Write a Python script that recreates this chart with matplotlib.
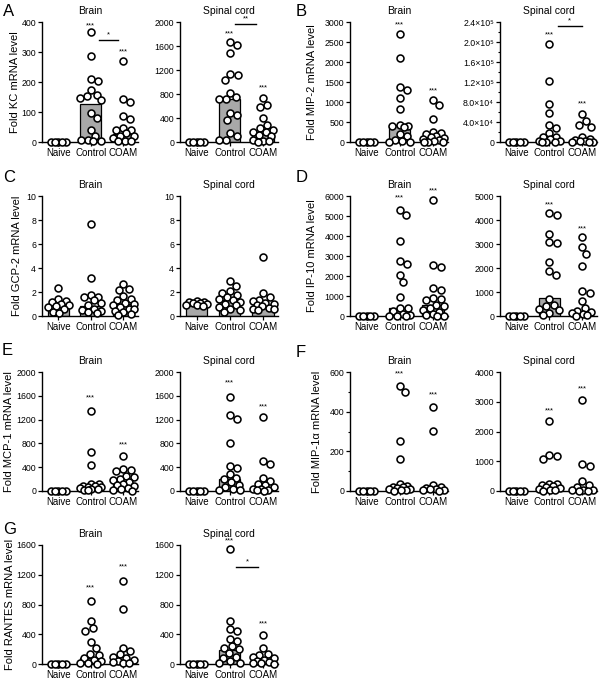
import matplotlib
matplotlib.use('Agg')
import matplotlib.pyplot as plt
import numpy as np

plt.rcParams['font.family'] = ['Liberation Sans', 'DejaVu Sans']

groups = ['Naive', 'Control', 'COAM']

# ---------------- data (fold mRNA levels) ----------------
kc_brain = [[1, 1, 1, 1, 1],
            [368, 288, 210, 204, 174, 157, 152, 146, 140, 96, 80, 40, 19, 8, 6, 5, 4],
            [270, 143, 132, 88, 76, 47, 41, 40, 30, 21, 19, 12, 3, 2, 2]]
kc_brain_bars = [1, 128, 28]
kc_spinal = [[1, 1, 1, 1, 1],
             [1670, 1615, 1480, 1135, 1120, 1035, 825, 750, 715, 715, 480, 455, 360, 150, 95, 40, 35],
             [730, 620, 580, 400, 290, 235, 205, 175, 160, 120, 95, 40, 12, 10, 8]]
kc_spinal_bars = [1, 710, 150]

mip2_brain = [[1, 1, 1, 1, 1],
              [2710, 2090, 1370, 1300, 1110, 830, 420, 410, 400, 380, 200, 150, 60, 20, 10, 5],
              [1060, 930, 580, 260, 230, 210, 150, 130, 110, 80, 40, 20, 10, 5, 5]]
mip2_brain_bars = [1, 430, 150]
mip2_spinal = [[1, 1, 1, 1, 1],
               [197000, 123000, 76000, 59000, 34500, 28000, 18000, 11000, 10000, 6000, 3000, 1500, 800, 400, 200],
               [55500, 42000, 34500, 30500, 9500, 7000, 4000, 2500, 1500, 800, 400, 200]]
mip2_spinal_bars = [1, 8000, 2000]

gcp2_brain = [[2.35, 1.45, 1.25, 1.15, 1.0, 0.9, 0.85, 0.75, 0.55, 0.3, 0.25],
              [7.65, 3.2, 1.75, 1.6, 1.55, 1.3, 1.1, 0.9, 0.6, 0.5, 0.4, 0.3, 0.25],
              [2.7, 2.25, 2.2, 1.65, 1.45, 1.35, 1.1, 1.0, 0.9, 0.75, 0.6, 0.55, 0.45, 0.3, 0.2, 0.1]]
gcp2_brain_bars = [0.95, 0.85, 1.0]
gcp2_spinal = [[1.25, 1.2, 1.15, 1.1, 1.05, 1.0, 0.95, 0.9, 0.85],
               [2.9, 2.5, 2.05, 1.9, 1.75, 1.6, 1.45, 1.3, 1.2, 1.0, 0.9, 0.75, 0.6, 0.5, 0.35],
               [4.9, 1.9, 1.55, 1.35, 1.25, 1.1, 1.0, 0.95, 0.8, 0.7, 0.6, 0.55, 0.5]]
gcp2_spinal_bars = [1.0, 1.35, 0.85]

ip10_brain = [[1, 1, 1, 1, 1],
              [5280, 5070, 3750, 2750, 2580, 2040, 1700, 960, 420, 380, 250, 120, 50, 20, 10, 5],
              [5820, 2530, 2450, 1400, 1320, 900, 860, 790, 560, 480, 380, 300, 200, 100, 50, 20, 10]]
ip10_brain_bars = [1, 420, 560]
ip10_spinal = [[1, 1, 1, 1, 1],
               [4280, 4200, 3420, 3080, 3040, 2230, 1860, 1700, 720, 470, 420, 300, 230, 120, 50],
               [3300, 2870, 2600, 2100, 1050, 960, 630, 330, 220, 160, 120, 80, 40, 20]]
ip10_spinal_bars = [1, 740, 200]

mcp1_brain = [[1, 1, 1, 1, 1],
              [1350, 660, 440, 120, 110, 90, 80, 70, 60, 50, 40, 30, 20, 10],
              [590, 370, 350, 340, 260, 230, 200, 180, 150, 120, 100, 80, 50, 30, 10, 5]]
mcp1_brain_bars = [1, 50, 120]
mcp1_spinal = [[1, 1, 1, 1, 1],
               [1580, 1270, 1210, 810, 420, 390, 290, 220, 200, 150, 100, 60, 40, 20, 10],
               [1240, 500, 460, 220, 170, 120, 100, 60, 40, 30, 20, 10, 5]]
mcp1_spinal_bars = [1, 200, 20]

mip1a_brain = [[1, 1, 1, 1, 1],
               [530, 500, 250, 160, 35, 25, 22, 20, 15, 10, 8, 5, 3, 2],
               [425, 305, 28, 18, 15, 10, 8, 5, 3, 2]]
mip1a_brain_bars = [1, 5, 3]
mip1a_spinal = [[1, 1, 1, 1, 1],
                [2350, 1200, 1180, 1060, 240, 220, 200, 180, 150, 100, 80, 50, 20, 10],
                [3060, 900, 830, 340, 200, 150, 50, 30, 20, 10, 5]]
mip1a_spinal_bars = [1, 100, 30]

rantes_brain = [[1, 1, 1, 1, 1],
                [850, 580, 480, 450, 290, 210, 140, 120, 80, 60, 40, 20, 10, 5],
                [1110, 740, 220, 170, 130, 100, 80, 60, 40, 30, 20, 10]]
rantes_brain_bars = [1, 80, 40]
rantes_spinal = [[1, 1, 1, 1, 1],
                 [1540, 580, 470, 450, 340, 310, 240, 220, 200, 150, 100, 80, 40, 20, 10],
                 [390, 210, 130, 120, 100, 80, 60, 40, 30, 20, 10, 5]]
rantes_spinal_bars = [1, 190, 50]

sup = {4: '\u2074', 5: '\u2075'}
mip2_spinal_ticklabels = ['0', '4.0\u00d710' + sup[4], '8.0\u00d710' + sup[4],
                          '1.2\u00d710' + sup[5], '1.6\u00d710' + sup[5],
                          '2.0\u00d710' + sup[5], '2.4\u00d710' + sup[5]]

# ---------------- layout ----------------
W, H = 600, 683
fig = plt.figure(figsize=(6, 6.83), dpi=100)

rows = [(22, 142), (196, 316), (372, 491), (545, 664)]
cols = [(42, 138), (180, 278), (350, 448), (500, 597)]
XMIN, XMAX = -0.5, 2.45


def swarm_offsets(vals, px_per_x, px_per_y, d=7.6, maxw=10.5):
    """Bounded beeswarm in pixel space; returns x offsets in data units."""
    vals = np.asarray(vals, float)
    order = np.argsort(-vals, kind='stable')
    placed = []
    offs = np.zeros(len(vals))
    grid = np.arange(-maxw, maxw + 0.01, 0.25)
    grid = grid[np.argsort(np.abs(grid) + 1e-3 * (grid < 0))]
    for i in order:
        y = vals[i] * px_per_y
        best, best_score = 0.0, -1.0
        chosen = None
        for c in grid:
            if not placed:
                chosen = c
                break
            md = min(np.hypot(c - px, y - py) for (px, py) in placed)
            if md >= d:
                chosen = c
                break
            if md > best_score + 1e-6:
                best_score, best = md, c
        if chosen is None:
            chosen = best
        placed.append((chosen, y))
        offs[i] = chosen / px_per_x
    return offs


def panel(r, c, data, bars, top, yticks, title, ylabel=None, ylabel_x=None,
          yticklabels=None, minor=None, stars=(), sig=None):
    (t, b), (l, rr) = rows[r], cols[c]
    ax = fig.add_axes([l / W, 1 - b / H, (rr - l) / W, (b - t) / H])
    ax.set_xlim(XMIN, XMAX)
    ax.set_ylim(0, top)
    px_per_x = (rr - l) / (XMAX - XMIN)
    px_per_y = (b - t) / top
    ax.bar(range(3), bars, width=0.64, color='#a8a8a8', edgecolor='black',
           linewidth=0.9, zorder=2)
    for gi, vals in enumerate(data):
        offs = swarm_offsets(vals, px_per_x, px_per_y)
        ax.plot(gi + offs, vals, 'o', ms=5.0, mfc='white', mec='black',
                mew=1.15, clip_on=False, zorder=3, ls='none')
    for s in ['top', 'right']:
        ax.spines[s].set_visible(False)
    for s in ['left', 'bottom']:
        ax.spines[s].set_linewidth(1.0)
    ax.set_xticks(range(3))
    ax.set_xticklabels(groups, fontsize=7)
    ax.set_yticks(yticks)
    if yticklabels is not None:
        ax.set_yticklabels(yticklabels)
    if minor is not None:
        ax.set_yticks(minor, minor=True)
        ax.tick_params(axis='y', which='minor', length=1.8, width=0.8)
    ax.tick_params(axis='y', labelsize=6.3, length=2.8, width=0.9, pad=1.5)
    ax.tick_params(axis='x', length=2.8, width=0.9, pad=1.5)
    ax.set_title(title, fontsize=7.5, pad=6)
    for (gi, yy, txt) in stars:
        ax.text(gi, yy, txt, ha='center', va='center', fontsize=5.5, clip_on=False)
    if sig is not None:
        x1, x2, yy, txt = sig
        ax.plot([x1, x2], [yy, yy], color='black', lw=1.0, clip_on=False)
        ax.text((x1 + x2) / 2, yy + top * 0.015, txt, ha='center', va='bottom',
                fontsize=5.5, clip_on=False)
    if ylabel is not None:
        fig.text(ylabel_x / W, 1 - (t + b) / 2 / H, ylabel, rotation=90,
                 ha='center', va='center', fontsize=8)
    return ax


# Row A / B
panel(0, 0, kc_brain, kc_brain_bars, 400, [0, 100, 200, 300, 400], 'Brain',
      'Fold KC mRNA level', 15,
      stars=[(1, 388, '***'), (2, 300, '***')], sig=(1.25, 1.85, 340, '*'))
panel(0, 1, kc_spinal, kc_spinal_bars, 2000, [0, 400, 800, 1200, 1600, 2000], 'Spinal cord',
      stars=[(1, 1800, '***'), (2, 900, '***')], sig=(1.15, 1.8, 1960, '**'))
panel(0, 2, mip2_brain, mip2_brain_bars, 3000, [0, 500, 1000, 1500, 2000, 2500, 3000], 'Brain',
      'Fold MIP-2 mRNA level', 312,
      stars=[(1, 2920, '***'), (2, 1270, '***')])
panel(0, 3, mip2_spinal, mip2_spinal_bars, 240000,
      [0, 40000, 80000, 120000, 160000, 200000, 240000], 'Spinal cord',
      yticklabels=mip2_spinal_ticklabels,
      minor=[20000, 60000, 100000, 140000, 180000, 220000],
      stars=[(1, 214000, '***'), (2, 77000, '***')], sig=(1.25, 2.0, 232000, '*'))

# Row C / D
panel(1, 0, gcp2_brain, gcp2_brain_bars, 10, [0, 2, 4, 6, 8, 10], 'Brain',
      'Fold GCP-2 mRNA level', 17)
panel(1, 1, gcp2_spinal, gcp2_spinal_bars, 10, [0, 2, 4, 6, 8, 10], 'Spinal cord')
panel(1, 2, ip10_brain, ip10_brain_bars, 6000, [0, 1000, 2000, 3000, 4000, 5000, 6000], 'Brain',
      'Fold IP-10 mRNA level', 312,
      stars=[(1, 5900, '***'), (2, 6250, '***')])
panel(1, 3, ip10_spinal, ip10_spinal_bars, 5000, [0, 1000, 2000, 3000, 4000, 5000], 'Spinal cord',
      stars=[(1, 4650, '***'), (2, 3650, '***')])

# Row E / F
panel(2, 0, mcp1_brain, mcp1_brain_bars, 2000, [0, 400, 800, 1200, 1600, 2000], 'Brain',
      'Fold MCP-1 mRNA level', 9,
      stars=[(1, 1560, '***'), (2, 770, '***')])
panel(2, 1, mcp1_spinal, mcp1_spinal_bars, 2000, [0, 400, 800, 1200, 1600, 2000], 'Spinal cord',
      stars=[(1, 1810, '***'), (2, 1420, '***')])
panel(2, 2, mip1a_brain, mip1a_brain_bars, 600, [0, 200, 400, 600], 'Brain',
      'Fold MIP-1\u03b1 mRNA level', 317,
      minor=[100, 300, 500],
      stars=[(1, 590, '***'), (2, 485, '***')])
panel(2, 3, mip1a_spinal, mip1a_spinal_bars, 4000, [0, 1000, 2000, 3000, 4000], 'Spinal cord',
      stars=[(1, 2680, '***'), (2, 3420, '***')])

# Row G
panel(3, 0, rantes_brain, rantes_brain_bars, 1600, [0, 400, 800, 1200, 1600], 'Brain',
      'Fold RANTES mRNA level', 10,
      stars=[(1, 1020, '***'), (2, 1310, '***')])
panel(3, 1, rantes_spinal, rantes_spinal_bars, 1600, [0, 400, 800, 1200, 1600], 'Spinal cord',
      stars=[(1, 1650, '***'), (2, 540, '***')], sig=(1.2, 1.85, 1308, '*'))

# panel letters
for letter, x, y in [('A', 3, 4), ('B', 296, 4), ('C', 3, 170), ('D', 296, 170),
                     ('E', 2, 343), ('F', 296, 345), ('G', 3, 522)]:
    fig.text(x / W, 1 - y / H, letter, fontsize=12, ha='left', va='top')

fig.savefig('out.png', dpi=100)
